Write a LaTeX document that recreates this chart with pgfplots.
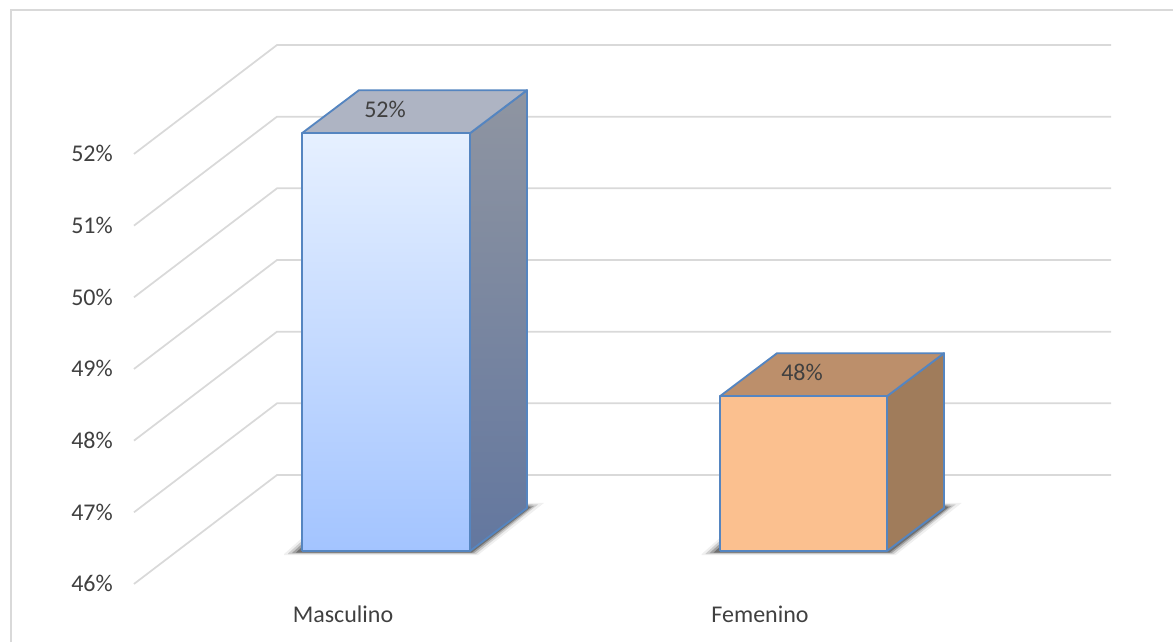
\documentclass[border=0pt]{standalone}
\usepackage{fontspec}
\setmainfont{Carlito}
\usepackage{pgfplots}
\pgfplotsset{compat=1.18}
\definecolor{wall}{HTML}{D9D9D9}
\definecolor{txt}{HTML}{404040}
\definecolor{edge}{HTML}{5585C0}
\definecolor{mside1}{RGB}{143,149,161}
\definecolor{mside2}{RGB}{99,119,159}
\definecolor{mtop}{RGB}{174,180,195}
\definecolor{mfront1}{RGB}{230,240,255}
\definecolor{mfront2}{RGB}{163,196,255}
\definecolor{fside}{RGB}{160,124,91}
\definecolor{ftop}{RGB}{188,143,107}
\definecolor{ffront}{RGB}{251,192,143}
% 1 px of the reference = 0.75pt; x is in px, y in percent on the back wall
\tikzset{
	bar plane/.style={yshift=-57pt},
	face/.style={bar plane,draw=edge,line width=1.4pt,line join=round},
	soft/.style={bar plane,draw=none,fill=black,fill opacity=#1},
	wline/.style={wall,line width=1.3pt},
}
% blurred shadow under a bar, drawn in layers; #1 moves it to the bar
\newcommand{\barshadow}[1]{
	\addplot[soft=0.06,xshift=#1] coordinates {(284,45.958)(302,46.181)(527,46.67)(544,46.67)(478,45.944)(284,45.944)(284,45.958)};
	\addplot[soft=0.14,xshift=#1] coordinates {(288,45.965)(302,46.14)(527,46.656)(538,46.649)(476,45.958)(288,45.958)(288,45.965)};
	\addplot[soft=0.22,xshift=#1] coordinates {(292,45.972)(302,46.098)(527,46.642)(534,46.628)(474,45.972)(292,45.972)};
	\addplot[soft=0.3,xshift=#1] coordinates {(296,45.979)(302,46.056)(527,46.628)(531,46.614)(472,45.979)(296,45.979)};
}
\begin{document}
\begin{tikzpicture}
	\begin{axis}[
			scale only axis,
			width=879.75pt,height=481.5pt,
			xmin=0,xmax=1173,ymin=43.67,ymax=52.628,
			axis line style={draw=none},
			major tick length=0pt,
			tick style={draw=none},
			/pgf/number format/assume math mode=true,
			xtick={343,760},
			xticklabels={Masculino,Femenino},
			ytick={46,47,48,49,50,51,52},
			yticklabel={\pgfmathprintnumber{\tick}\%},
			tick label style={font=\fontsize{18}{20}\selectfont,text=txt},
			xticklabel style={anchor=base,inner sep=0pt,yshift=15pt},
			yticklabel style={anchor=east,inner sep=0pt,xshift=84.75pt,yshift=-81.5pt},
		]
		% frame
		\addplot[wall,line width=1.5pt] coordinates {(11,43.67)(11,52.488)(1173,52.488)};
		% wall and floor lines
		\addplot[wline] coordinates {(134,44.48)(277,46)(1111,46)};
		\addplot[wline] coordinates {(134,45.48)(277,47)(1111,47)};
		\addplot[wline] coordinates {(134,46.48)(277,48)(1111,48)};
		\addplot[wline] coordinates {(134,47.48)(277,49)(1111,49)};
		\addplot[wline] coordinates {(134,48.48)(277,50)(1111,50)};
		\addplot[wline] coordinates {(134,49.48)(277,51)(1111,51)};
		\addplot[wline] coordinates {(134,50.48)(277,52)(1111,52)};
		% Masculino
		\barshadow{0pt}
		\addplot[face,top color=mside1,bottom color=mside2] coordinates {(470,46)(527,46.6)(527,52.43)(470,51.83)(470,46)};
		\addplot[face,fill=mtop] coordinates {(302,51.83)(470,51.83)(527,52.43)(359,52.43)(302,51.83)};
		\addplot[face,top color=mfront1,bottom color=mfront2] coordinates {(302,46)(470,46)(470,51.83)(302,51.83)(302,46)};
		% Femenino
		\barshadow{313.25pt}
		\addplot[face,fill=fside] coordinates {(887,46)(944,46.6)(944,48.76)(887,48.16)(887,46)};
		\addplot[face,fill=ftop] coordinates {(720,48.16)(887,48.16)(944,48.76)(777,48.76)(720,48.16)};
		\addplot[face,fill=ffront] coordinates {(720,46)(887,46)(887,48.16)(720,48.16)(720,46)};
		% data labels
		\node[text=txt,font=\fontsize{18}{20}\selectfont] at (axis cs:385,51.107) {52\%};
		\node[text=txt,font=\fontsize{18}{20}\selectfont] at (axis cs:802,47.437) {48\%};
	\end{axis}
\end{tikzpicture}
\end{document}
